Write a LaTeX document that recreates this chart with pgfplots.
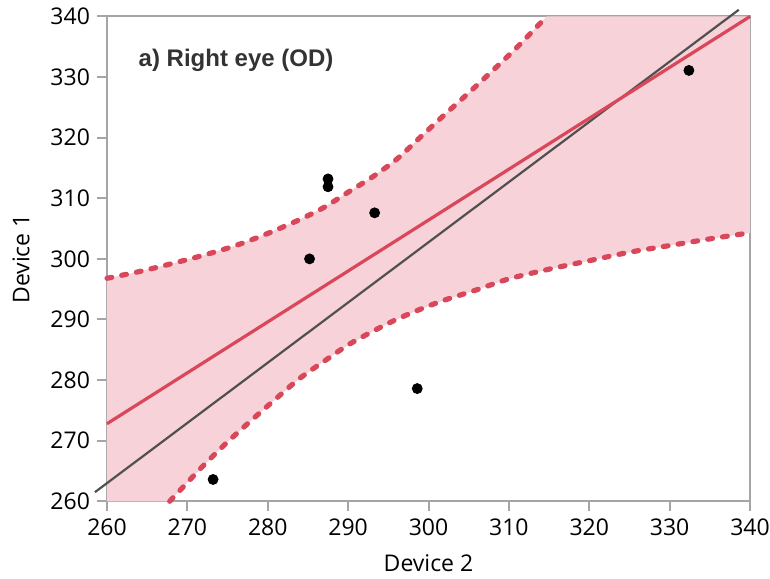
\documentclass[border=0pt]{standalone}
\usepackage{fontspec}
\setmainfont{Open Sans}
\newfontfamily\titlefont{Liberation Sans}
\usepackage{pgfplots}
\usepackage{pgfplotstable}
\pgfplotsset{compat=1.18}

\definecolor{bandred}{RGB}{217,72,90}
\definecolor{bandfill}{RGB}{247,210,216}
\definecolor{framegray}{RGB}{165,165,165}
\definecolor{idline}{RGB}{80,80,80}

% confidence band, upper and lower edge
\pgfplotstableread{
x y
260.0 296.8
264.0 297.9
268.0 299.2
272.0 300.6
276.0 302.2
280.0 304.2
284.0 306.5
287.0 308.5
290.0 311.0
293.0 313.5
296.0 316.4
299.0 320.1
302.0 323.8
305.0 327.4
308.0 331.1
311.0 334.9
314.7 340.0
}\upperband
\pgfplotstableread{
x y
267.8 260.0
270.0 263.1
272.0 265.9
275.0 269.8
278.0 273.4
281.0 276.9
284.0 280.3
287.0 283.1
290.0 285.8
293.0 288.0
296.0 290.0
299.0 291.7
302.0 293.2
306.0 294.9
310.0 296.7
315.0 298.3
320.0 299.7
325.0 301.1
330.0 302.2
335.0 303.3
340.0 304.3
}\lowerband
% fill polygon: upper edge, top right corner, lower edge backwards, bottom left
\pgfplotstableread{
x y
260.0 296.8
264.0 297.9
268.0 299.2
272.0 300.6
276.0 302.2
280.0 304.2
284.0 306.5
287.0 308.5
290.0 311.0
293.0 313.5
296.0 316.4
299.0 320.1
302.0 323.8
305.0 327.4
308.0 331.1
311.0 334.9
314.7 340.0
340.0 340.0
340.0 304.3
335.0 303.3
330.0 302.2
325.0 301.1
320.0 299.7
315.0 298.3
310.0 296.7
306.0 294.9
302.0 293.2
299.0 291.7
296.0 290.0
293.0 288.0
290.0 285.8
287.0 283.1
284.0 280.3
281.0 276.9
278.0 273.4
275.0 269.8
272.0 265.9
270.0 263.1
267.8 260.0
260.0 260.0
}\bandarea

\begin{document}
\begin{tikzpicture}
\begin{axis}[
  name=ax,
  scale only axis, width=321.5pt, height=242.4pt,
  xmin=260, xmax=340, ymin=260, ymax=340,
  xtick={260,270,...,340}, ytick={260,270,...,340},
  tick align=outside, major tick length=5pt,
  xtick pos=bottom, ytick pos=left,
  axis line style={framegray, line width=1pt},
  tick style={framegray, line width=1pt},
  /pgf/number format/assume math mode=true,
  /pgf/number format/1000 sep={},
  ticklabel style={font=\fontsize{11.5}{13}\selectfont},
  clip=false,
]
\addplot[draw=none, fill=bandfill] table {\bandarea} -- cycle;
\addplot[bandred, line width=2.6pt, line cap=round, dash pattern=on 2.4pt off 5.1pt, smooth] table {\upperband};
\addplot[bandred, line width=2.6pt, line cap=round, dash pattern=on 2.4pt off 5.1pt, smooth] table {\lowerband};
\addplot[idline, line width=1.1pt] coordinates {(258.5,261.5) (338.6,341.1)};
\addplot[bandred, line width=1.6pt] coordinates {(260,272.8) (340,340)};
\addplot[black, only marks, mark=*, mark size=2.5pt] coordinates {
  (273.2,263.6) (285.2,300.0) (287.5,313.2) (287.5,311.9)
  (293.3,307.6) (298.6,278.6) (332.4,331.1)};
\node[anchor=west, inner sep=0pt, font=\titlefont\bfseries\fontsize{12}{14}\selectfont, text=black!80]
  at (axis cs:263.9,332.8) {a) Right eye (OD)};
\end{axis}
\node[rotate=90, font=\fontsize{11.5}{13}\selectfont] at ([xshift=-43pt]ax.west) {Device 1};
\node[font=\fontsize{11.5}{13}\selectfont] at ([yshift=-30.9pt]ax.south) {Device 2};
\pgfresetboundingbox
\path ([xshift=-53.5pt,yshift=-38.85pt]ax.south west) rectangle ([xshift=10pt,yshift=8.25pt]ax.north east);
\end{tikzpicture}
\end{document}
